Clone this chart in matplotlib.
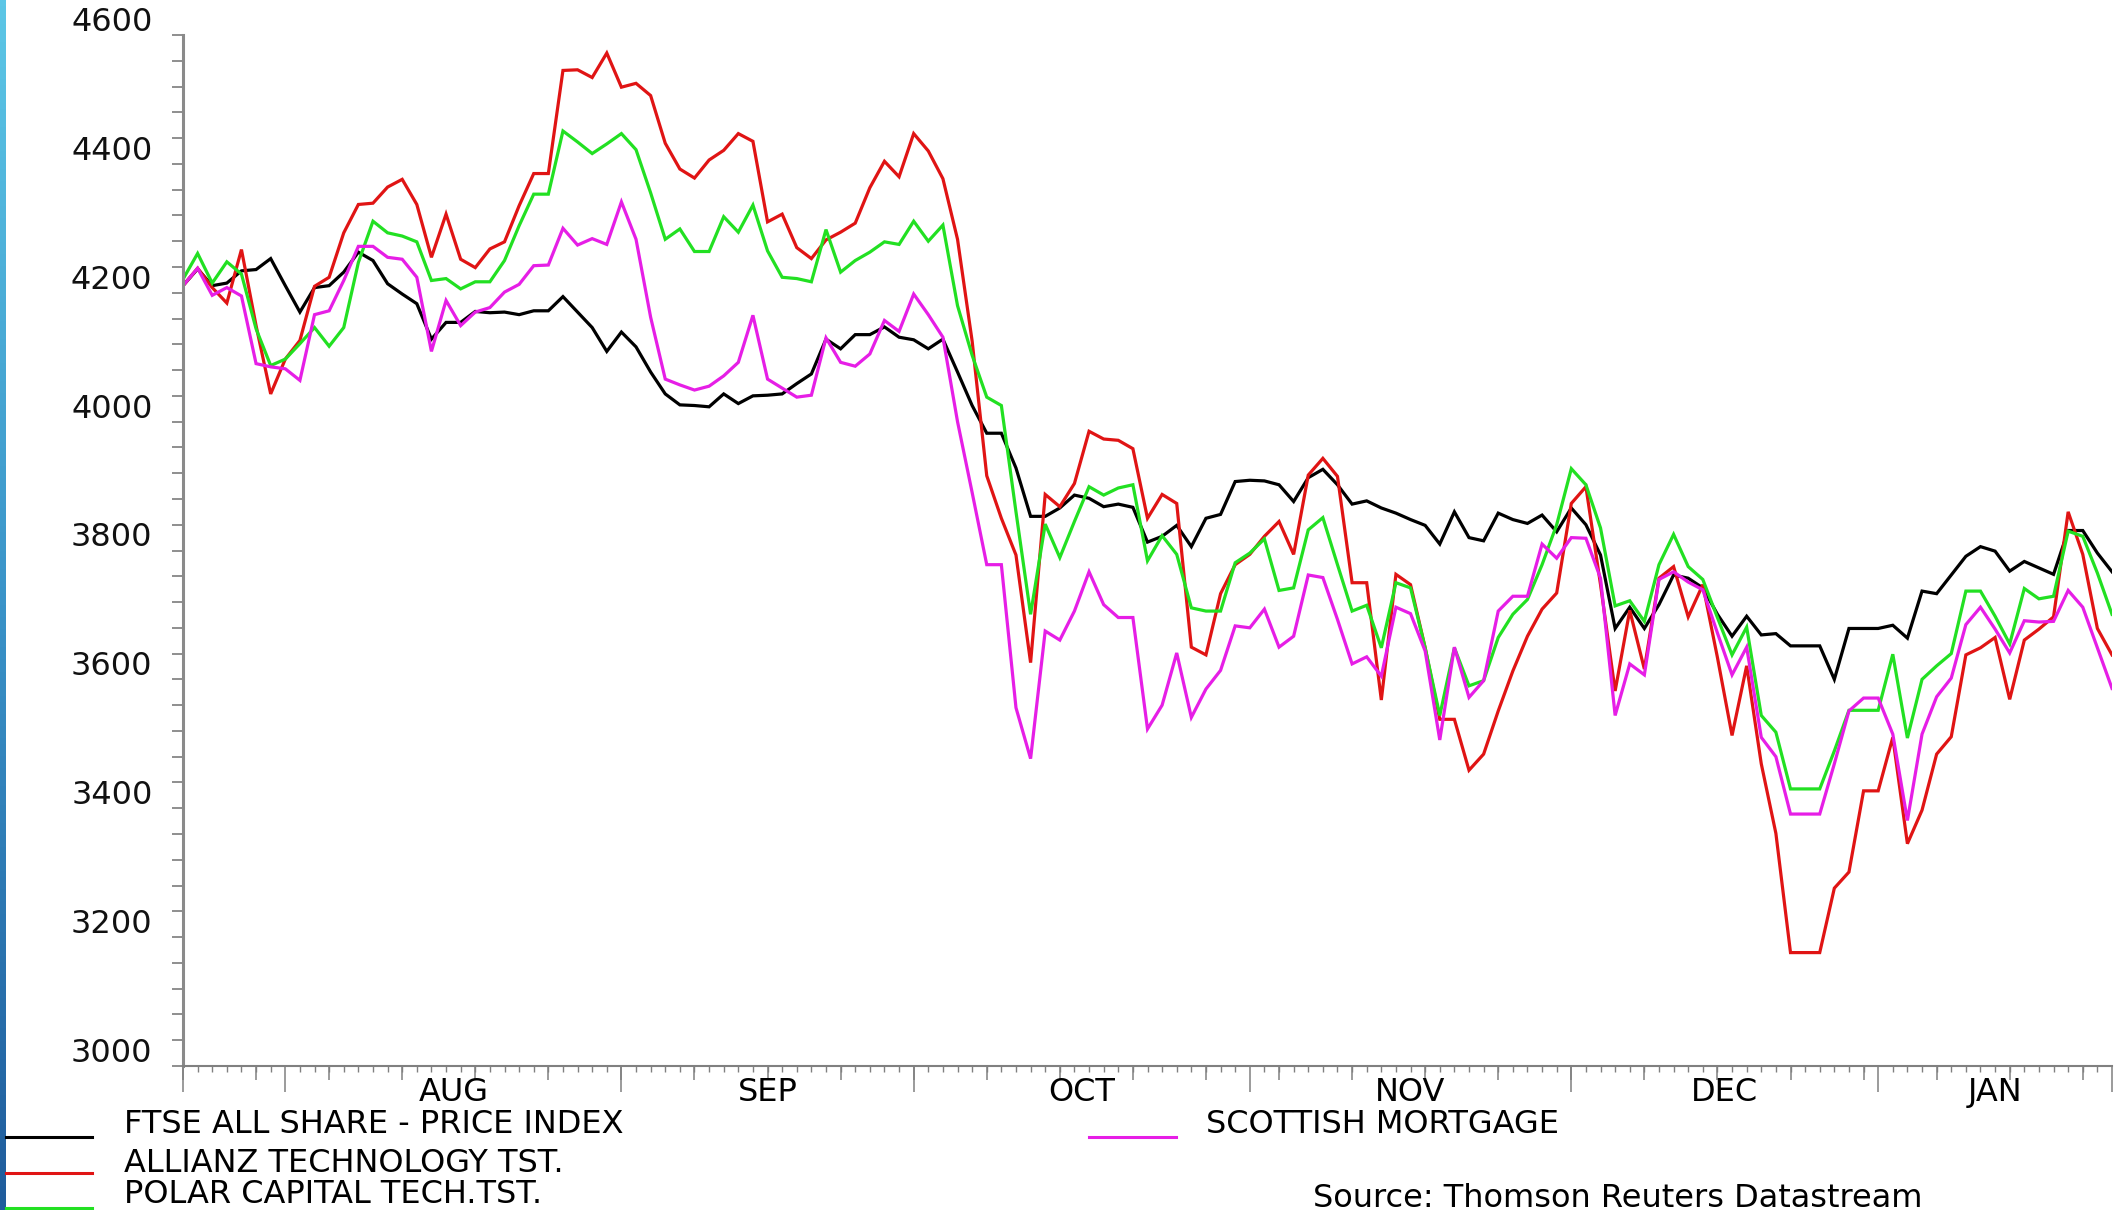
import numpy as np
import pandas as pd
import matplotlib
matplotlib.use('Agg')
import matplotlib.pyplot as plt
from matplotlib.lines import Line2D
from matplotlib.ticker import MultipleLocator, NullLocator
from matplotlib.colors import LinearSegmentedColormap

# business days, 23 Jul 2018 - 23 Jan 2019
dates = pd.bdate_range('2018-07-23', '2019-01-23')

ftse = [4211, 4237, 4211, 4215, 4234, 4236, 4253, 4211, 4170, 4208,
        4211, 4232, 4263, 4250, 4214, 4198, 4183, 4128, 4154, 4154,
        4171, 4169, 4170, 4166, 4172, 4172, 4194, 4170, 4146, 4109,
        4139, 4116, 4077, 4043, 4026, 4025, 4023, 4043, 4028, 4040,
        4041, 4043, 4059, 4074, 4128, 4113, 4135, 4135, 4147, 4131,
        4127, 4113, 4128, 4077, 4025, 3982, 3982, 3928, 3853, 3853,
        3866, 3886, 3881, 3868, 3872, 3867, 3813, 3822, 3839, 3806,
        3850, 3856, 3907, 3909, 3908, 3902, 3876, 3913, 3926, 3902,
        3872, 3877, 3866, 3858, 3848, 3839, 3810, 3860, 3820, 3815,
        3858, 3848, 3842, 3855, 3829, 3866, 3840, 3793, 3679, 3712,
        3679, 3716, 3762, 3757, 3742, 3701, 3667, 3698, 3669, 3671,
        3652, 3652, 3652, 3600, 3679, 3679, 3679, 3684, 3664, 3737,
        3733, 3762, 3791, 3806, 3799, 3768, 3783, 3773, 3763, 3831,
        3831, 3796, 3767]

allianz = [4211, 4238, 4208, 4184, 4267, 4149, 4043, 4097, 4126, 4210,
           4224, 4293, 4337, 4339, 4364, 4376, 4337, 4255, 4322, 4252,
           4239, 4268, 4279, 4335, 4385, 4385, 4545, 4546, 4534, 4572,
           4519, 4525, 4506, 4432, 4392, 4378, 4406, 4421, 4447, 4435,
           4310, 4322, 4270, 4253, 4282, 4294, 4308, 4363, 4404, 4380,
           4447, 4420, 4377, 4283, 4125, 3916, 3850, 3793, 3626, 3887,
           3868, 3904, 3985, 3973, 3971, 3958, 3850, 3887, 3873, 3650,
           3638, 3733, 3778, 3794, 3822, 3845, 3794, 3917, 3943, 3915,
           3750, 3750, 3568, 3763, 3747, 3649, 3538, 3538, 3459, 3484,
           3551, 3613, 3667, 3709, 3734, 3873, 3899, 3747, 3582, 3707,
           3616, 3757, 3775, 3697, 3747, 3634, 3513, 3621, 3469, 3361,
           3176, 3176, 3176, 3276, 3301, 3427, 3427, 3510, 3345, 3397,
           3484, 3511, 3638, 3649, 3665, 3569, 3661, 3678, 3697, 3860,
           3794, 3679, 3638]

polar = [4221, 4261, 4215, 4248, 4229, 4144, 4087, 4097, 4121, 4146,
         4117, 4146, 4247, 4311, 4293, 4288, 4279, 4219, 4222, 4206,
         4217, 4217, 4250, 4304, 4353, 4353, 4451, 4434, 4416, 4431,
         4447, 4422, 4355, 4283, 4299, 4264, 4264, 4318, 4294, 4336,
         4265, 4224, 4222, 4217, 4298, 4232, 4250, 4263, 4279, 4275,
         4311, 4280, 4305, 4180, 4103, 4038, 4025, 3860, 3701, 3841,
         3789, 3845, 3899, 3886, 3897, 3902, 3784, 3823, 3794, 3711,
         3706, 3706, 3781, 3796, 3818, 3738, 3742, 3832, 3851, 3778,
         3706, 3715, 3649, 3750, 3742, 3649, 3544, 3649, 3590, 3598,
         3665, 3701, 3724, 3778, 3840, 3927, 3902, 3835, 3714, 3722,
         3690, 3778, 3825, 3775, 3755, 3696, 3638, 3681, 3544, 3518,
         3430, 3430, 3430, 3489, 3552, 3552, 3552, 3639, 3509, 3600,
         3621, 3640, 3737, 3737, 3698, 3655, 3741, 3725, 3729, 3830,
         3822, 3765, 3701]

scottish = [4211, 4238, 4196, 4208, 4195, 4090, 4085, 4082, 4064, 4166,
            4172, 4219, 4272, 4272, 4255, 4252, 4224, 4109, 4188, 4149,
            4170, 4177, 4201, 4213, 4242, 4243, 4300, 4274, 4284, 4275,
            4341, 4283, 4162, 4066, 4057, 4049, 4055, 4071, 4092, 4165,
            4066, 4052, 4038, 4041, 4130, 4092, 4086, 4105, 4157, 4140,
            4198, 4166, 4131, 4000, 3890, 3778, 3778, 3556, 3477, 3675,
            3661, 3706, 3767, 3716, 3696, 3696, 3523, 3560, 3641, 3541,
            3585, 3614, 3683, 3680, 3709, 3650, 3667, 3762, 3758, 3693,
            3624, 3635, 3605, 3712, 3702, 3644, 3506, 3650, 3572, 3598,
            3706, 3729, 3729, 3810, 3788, 3820, 3819, 3757, 3544, 3624,
            3607, 3755, 3767, 3751, 3739, 3672, 3607, 3650, 3510, 3480,
            3391, 3391, 3391, 3469, 3551, 3571, 3571, 3515, 3381, 3515,
            3573, 3602, 3685, 3712, 3678, 3641, 3691, 3689, 3690, 3738,
            3712, 3649, 3586]

series_names = ['FTSE ALL SHARE - PRICE INDEX', 'ALLIANZ TECHNOLOGY TST.',
                'POLAR CAPITAL TECH.TST.', 'SCOTTISH MORTGAGE']
series_colors = ['#000000', '#e01414', '#22e022', '#e61ee6']
y_labels = [3000, 3200, 3400, 3600, 3800, 4000, 4200, 4400, 4600]
source_text = 'Source: Thomson Reuters Datastream'

W, H = 2116, 1210
fig = plt.figure(figsize=(W / 100, H / 100), dpi=100)
plt.rcParams['font.family'] = ['DejaVu Sans']

ax = fig.add_axes([183 / W, (H - 1066) / H, (2112 - 183) / W, (1066 - 35) / H])

x = np.arange(len(dates))
for vals, col in zip([ftse, allianz, polar, scottish], series_colors):
    ax.plot(x, vals, color=col, lw=2.3, solid_joinstyle='miter')

ax.set_xlim(0, len(dates) - 1)
ax.set_ylim(3000, 4600)

for s in ['top', 'right']:
    ax.spines[s].set_visible(False)
ax.spines['left'].set_color('#8a8a8a')
ax.spines['left'].set_linewidth(2.2)
ax.spines['bottom'].set_color('#808080')
ax.spines['bottom'].set_linewidth(1.5)

# y axis: ticks every 40, labels set by hand slightly above the tick
ax.yaxis.set_major_locator(MultipleLocator(40))
ax.yaxis.set_minor_locator(NullLocator())
ax.tick_params(axis='y', length=8, width=1.1, color='#707070', labelleft=False)
for v in y_labels:
    ax.annotate(str(v), xy=(0, v), xycoords=('axes fraction', 'data'),
                xytext=(-22, 9), textcoords='offset points',
                ha='right', va='center', fontsize=23, color='#111111',
                annotation_clip=False)

# x axis: daily minor ticks, weekly (Mondays) medium, month boundaries long
months = dates.to_period('M')
month_start = [0] + [i for i in range(1, len(dates)) if months[i] != months[i - 1]]
bounds = month_start + [len(dates) - 1]
ax.set_xticks(bounds)
ax.set_xticklabels([])
ax.set_xticks(x, minor=True)
ax.tick_params(axis='x', which='major', length=18.5, width=1.1, color='#808080')
ax.tick_params(axis='x', which='minor', length=4.3, width=1.0, color='#808080')

mondays = [i for i, d in enumerate(dates) if d.weekday() == 0]
sec = ax.secondary_xaxis('bottom')
sec.set_xticks(mondays)
sec.xaxis.set_minor_locator(NullLocator())
sec.tick_params(length=10, width=1.1, color='#808080', labelbottom=False)
sec.spines['bottom'].set_visible(False)

for a, b in zip(month_start[1:], bounds[2:]):
    ax.annotate(dates[a].strftime('%b').upper(), xy=((a + b) / 2, 0),
                xycoords=('data', 'axes fraction'), xytext=(0, -19),
                textcoords='offset points', ha='center', va='center',
                fontsize=23, color='#000000', annotation_clip=False)

# legend, drawn like the original terminal output
leg_rows = [(6, 92, 1137, 124, 1133), (6, 92, 1173, 124, 1172),
            (6, 92, 1208, 124, 1203), (1089, 1176, 1137, 1206, 1133)]
for (x0, x1, ly, tx, ty), name, col in zip(leg_rows, series_names, series_colors):
    fig.add_artist(Line2D([x0 / W, x1 / W], [(H - ly) / H] * 2, color=col,
                          lw=2.2, transform=fig.transFigure))
    fig.text(tx / W, (H - ty) / H, name, fontsize=23, va='baseline', ha='left')

fig.text(1313 / W, (H - 1207) / H, source_text, fontsize=23, va='baseline', ha='left')

# blue strip on the left edge
strip = fig.add_axes([0, 0, 6 / W, 1])
cmap = LinearSegmentedColormap.from_list('edge', ['#5cc6e6', '#3a93c8', '#1f5c9c'])
strip.imshow(np.linspace(0, 1, 200).reshape(-1, 1), aspect='auto', cmap=cmap)
strip.axis('off')

fig.savefig('out.png', dpi=100)
